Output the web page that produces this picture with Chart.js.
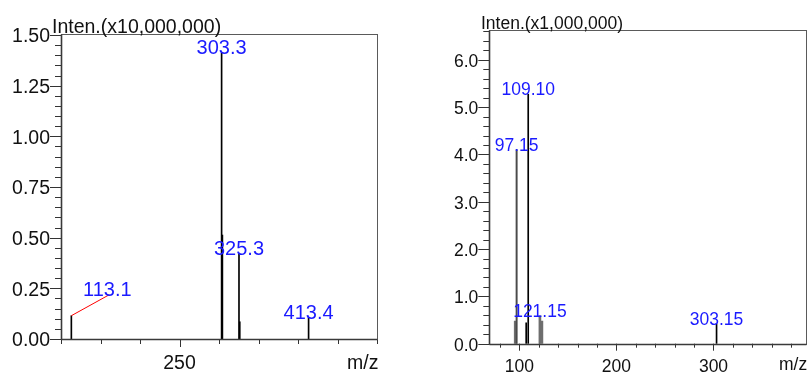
<!DOCTYPE html>
<html>
<head>
<meta charset="utf-8">
<script src="https://cdn.jsdelivr.net/npm/chart.js@4.4.1/dist/chart.umd.min.js"></script>
<style>
  html, body { margin: 0; padding: 0; background: #fff; overflow: hidden; }
  canvas { position: absolute; top: 0; }
  #scanA { left: 0; }
  #scanB { left: 420px; }
</style>
</head>
<body>
<canvas id="scanA" width="420" height="374"></canvas>
<canvas id="scanB" width="391" height="374"></canvas>
<script>
// ---- Scan A: full MS spectrum, intensity in units of 10,000,000 ----
const scanAMz       = [113.1, 303.3, 304.3, 325.3, 326.3, 413.4];
const scanAInten    = [0.115, 1.41, 0.513, 0.42, 0.085, 0.105];
const scanALabeled  = [113.1, 303.3, 325.3, 413.4];
const scanAYMajor   = [0, 0.25, 0.5, 0.75, 1.0, 1.25, 1.5];
const scanAXMajor   = [250];

// ---- Scan B: product-ion spectrum, intensity in units of 1,000,000 ----
const scanBMz        = [107.0, 109.10, 303.15];
const scanBInten     = [0.44, 5.27, 0.42];
const scanBBaseMz    = [97.15];
const scanBBaseInten = [4.10];
const scanBGreyMz    = [95.7, 121.15, 123.2];
const scanBGreyInten = [0.48, 0.59, 0.48];
const scanBLabeled   = [97.15, 109.10, 121.15, 303.15];
const scanBYMajor    = [0, 1, 2, 3, 4, 5, 6];
const scanBXMajor    = [100, 200, 300];

const FONT = "'Liberation Sans', Arial, Helvetica, sans-serif";

function pts(xs, ys) { return xs.map((v, i) => ({ x: v, y: ys[i] })); }
function steps(from, to, step) {
  const out = [];
  const n = Math.round((to - from) / step);
  for (let i = 0; i <= n; i++) out.push(+(from + i * step).toFixed(4));
  return out;
}
function isMajor(v, list) { return list.some(m => Math.abs(m - v) < 1e-6); }

// Frame, tick marks, peak annotations and axis captions
const spectrumDecor = {
  id: 'spectrumDecor',
  afterDraw(chart, args, o) {
    const { ctx, chartArea: a, scales: { x, y } } = chart;
    ctx.save();

    // tick marks
    ctx.strokeStyle = '#333';
    ctx.lineWidth = 1;
    ctx.beginPath();
    y.ticks.forEach(t => {
      const py = Math.round(y.getPixelForValue(t.value)) + 0.5;
      const len = isMajor(t.value, o.yMajor) ? o.yMajorLen : o.yMinorLen;
      ctx.moveTo(a.left - len, py);
      ctx.lineTo(a.left, py);
    });
    x.ticks.forEach(t => {
      const px = Math.round(x.getPixelForValue(t.value)) + 0.5;
      const len = isMajor(t.value, o.xMajor) ? o.xMajorLen : o.xMinorLen;
      ctx.moveTo(px, a.bottom);
      ctx.lineTo(px, a.bottom + len);
    });
    ctx.stroke();

    // plot frame
    const L = Math.round(a.left) + 0.5, T = Math.round(a.top) + 0.5;
    const R = Math.round(a.right) + 0.5, B = Math.round(a.bottom) + 0.5;
    ctx.strokeStyle = '#5a5a5a';
    ctx.strokeRect(L, T, R - L, B - T);
    ctx.strokeStyle = '#3a3a3a';
    ctx.lineWidth = 1.6;
    ctx.beginPath();
    ctx.moveTo(L, B); ctx.lineTo(R, B);
    ctx.moveTo(L, T); ctx.lineTo(L, B);
    ctx.stroke();

    // peak m/z annotations
    const allPts = chart.data.datasets.flatMap(d => d.data);
    ctx.font = o.labelFontSize + 'px ' + FONT;
    ctx.textAlign = 'center';
    ctx.textBaseline = 'alphabetic';
    o.labeled.forEach(mz => {
      const p = allPts.find(q => Math.abs(q.x - mz) < 1e-6);
      if (!p) return;
      const px = x.getPixelForValue(p.x);
      const py = y.getPixelForValue(p.y);
      const shift = o.callouts[String(mz)];
      let lx = px, ly = py + 1;
      if (shift) {
        lx = px + shift[0];
        ly = py + shift[1];
        ctx.strokeStyle = '#ff0000';
        ctx.lineWidth = 1;
        ctx.beginPath();
        ctx.moveTo(px, py);
        ctx.lineTo(lx + 2, ly - 1);
        ctx.stroke();
      }
      ctx.fillStyle = '#1a1aff';
      ctx.fillText(mz.toFixed(o.labelDecimals), lx, ly);
    });

    // axis captions
    ctx.fillStyle = '#111';
    ctx.textAlign = 'left';
    ctx.font = o.captionFontSize + 'px ' + FONT;
    ctx.fillText(o.title, o.titlePos[0], o.titlePos[1]);
    ctx.fillText('m/z', o.mzPos[0], o.mzPos[1]);
    ctx.restore();
  }
};

function buildScales(c) {
  const tickFont = { family: FONT, size: c.tickFontSize };
  return {
    x: {
      type: 'linear', min: c.xMin, max: c.xMax, offset: false,
      grid: { display: false, drawTicks: false, offset: false },
      border: { display: false },
      afterBuildTicks: s => { s.ticks = steps(c.xFirst, c.xLast, c.xStep).map(v => ({ value: v })); },
      afterFit: s => { s.height = c.xAxisHeight; },
      ticks: {
        autoSkip: false, maxRotation: 0, minRotation: 0, padding: c.xPad,
        color: '#111', font: tickFont,
        callback: v => isMajor(v, c.xMajor) ? String(Math.round(v)) : ''
      }
    },
    y: {
      type: 'linear', min: 0, max: c.yMax,
      grid: { display: false, drawTicks: false },
      border: { display: false },
      afterBuildTicks: s => { s.ticks = steps(0, c.yLast, c.yStep).map(v => ({ value: v })); },
      afterFit: s => { s.width = c.yAxisWidth; },
      ticks: {
        autoSkip: false, padding: c.yPad, labelOffset: 2, color: '#111', font: tickFont,
        callback: v => isMajor(v, c.yMajor) ? v.toFixed(c.yDecimals) : ''
      }
    }
  };
}

function makeChart(id, c) {
  return new Chart(document.getElementById(id), {
    type: 'bar',
    data: { datasets: c.datasets },
    options: {
      responsive: false,
      animation: false,
      devicePixelRatio: 1,
      layout: { padding: c.padding },
      scales: buildScales(c),
      plugins: {
        legend: { display: false },
        tooltip: { enabled: false },
        spectrumDecor: c.decor
      }
    },
    plugins: [spectrumDecor]
  });
}

makeChart('scanA', {
  datasets: [
    { data: pts(scanAMz, scanAInten), backgroundColor: '#000', barThickness: 1, grouped: false }
  ],
  xMin: 100, xMax: 500, xFirst: 100, xLast: 500, xStep: 50, xMajor: scanAXMajor,
  yMax: 1.505, yLast: 1.5, yStep: 0.05, yMajor: scanAYMajor, yDecimals: 2,
  tickFontSize: 19.5, xPad: 13, yPad: 11,
  xAxisHeight: 35, yAxisWidth: 61,
  padding: { left: 0, top: 34, right: 43, bottom: 0 },
  decor: {
    yMajor: scanAYMajor, xMajor: scanAXMajor,
    yMajorLen: 11, yMinorLen: 6, xMajorLen: 8, xMinorLen: 5,
    labeled: scanALabeled, labelDecimals: 1, labelFontSize: 20,
    callouts: { '113.1': [36, -20] },
    title: 'Inten.(x10,000,000)', titlePos: [52, 33], mzPos: [347, 369],
    captionFontSize: 19.5
  }
});

makeChart('scanB', {
  datasets: [
    { data: pts(scanBMz, scanBInten), backgroundColor: '#000', barThickness: 1, grouped: false },
    { data: pts(scanBBaseMz, scanBBaseInten), backgroundColor: '#4a4a4a', barThickness: 1.3, grouped: false },
    { data: pts(scanBGreyMz, scanBGreyInten), backgroundColor: '#6e6e6e', barThickness: 2, grouped: false }
  ],
  xMin: 69, xMax: 395, xFirst: 80, xLast: 380, xStep: 20, xMajor: scanBXMajor,
  yMax: 6.63, yLast: 6.6, yStep: 0.2, yMajor: scanBYMajor, yDecimals: 1,
  tickFontSize: 17.5, xPad: 13, yPad: 11,
  xAxisHeight: 30.3, yAxisWidth: 69.3,
  padding: { left: 0, top: 30, right: 5.3, bottom: 0 },
  decor: {
    yMajor: scanBYMajor, xMajor: scanBXMajor,
    yMajorLen: 11, yMinorLen: 6, xMajorLen: 7, xMinorLen: 4,
    labeled: scanBLabeled, labelDecimals: 2, labelFontSize: 17.5,
    callouts: {},
    title: 'Inten.(x1,000,000)', titlePos: [61, 28.5], mzPos: [359, 370],
    captionFontSize: 17.5
  }
});
</script>
</body>
</html>
